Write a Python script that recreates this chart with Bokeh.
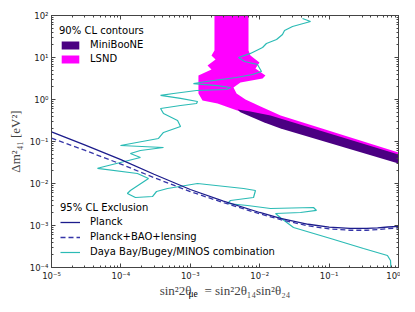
from bokeh.plotting import figure
from bokeh.models import (LogAxis, FixedTicker, CustomJSTickFormatter, Legend,
                          LegendItem, Label, Range1d)
from bokeh.embed import file_html
from bokeh.resources import INLINE

# ---------------- data ----------------
x_ticks = [1e-5, 1e-4, 1e-3, 1e-2, 1e-1, 1.0]
y_ticks = [1e-4, 1e-3, 1e-2, 1e-1, 1.0, 1e1, 1e2]

# LSND 90% CL region (closed contour)
lsnd_x = [2.23e-3, 2.23e-3, 2.02e-3, 2.31e-3, 1.77e-3, 2.02e-3, 1.31e-3, 1.31e-3,
          1.50e-3, 2.47e-3, 4.74e-3, 2.0e-2, 1.0,
          1.0, 2.0e-2, 1.03e-2, 6.24e-3, 4.64e-3, 4.19e-3, 5.28e-3, 1.10e-2,
          1.21e-2, 8.69e-3, 9.93e-3, 7.36e-3, 6.9e-3, 6.9e-3]
lsnd_y = [100, 14.7, 11.2, 8.96, 6.45, 5.18, 3.73, 1.39,
          0.947, 0.803, 0.547, 0.24, 0.0353,
          0.0547, 0.416, 0.681, 1.0, 1.39, 1.93, 2.54, 3.16,
          3.73, 5.48, 7.6, 11.2, 14.7, 100]

# MiniBooNE 90% CL region
mb_x = [4.79e-3, 7.36e-3, 1.43e-2, 1.0, 1.0, 2.0e-2, 1.14e-2, 5.28e-3]
mb_y = [0.578, 0.518, 0.416, 0.049, 0.0299, 0.204, 0.288, 0.499]

# Planck exclusion curves
planck_x = [1e-5, 3e-5, 1e-4, 3e-4, 1e-3, 3e-3, 1e-2, 2e-2, 5e-2, 0.1, 0.2, 0.35, 0.5, 0.7, 1.0]
planck_y = [0.17, 0.083, 0.037, 0.0166, 0.0072, 0.0038, 0.00204, 0.00148, 0.00107,
            0.00091, 0.00085, 0.00085, 0.00088, 0.00092, 0.00095]
planck_bao_y = [0.12, 0.062, 0.029, 0.0138, 0.0064, 0.0035, 0.0019, 0.00138, 0.00098,
                0.00083, 0.00077, 0.00077, 0.00080, 0.00084, 0.00088]

# Daya Bay / Bugey / MINOS combination contour
dyb_x = [0.0414, 0.0540, 0.0297, 0.0228, 0.0213, 0.0175, 0.0125, 0.0110, 7.36e-3, 4.95e-3,
         6.04e-3, 9.29e-3, 0.0106, 7.87e-3, 4.64e-3, 2.16e-3, 1.11e-3, 2.47e-3, 3.79e-3, 3.33e-3,
         1.23e-3, 5.73e-4, 3.73e-4, 7.23e-4, 1.27e-3, 1.23e-3, 7.23e-4, 3.73e-4, 4.11e-4, 6.55e-4,
         7.23e-4, 4.11e-4, 3.48e-4, 9.86e-5, 4.11e-4, 1.91e-4, 1.37e-4, 1.91e-4, 5.08e-5, 4.60e-5,
         1.73e-4, 2.50e-4, 1.37e-4, 1.24e-4, 1.62e-4, 2.85e-4, 3.26e-4, 4.69e-4, 1.27e-3, 5.85e-3,
         8.69e-3, 8.15e-3, 3.79e-3, 3.44e-3, 6.67e-3, 1.43e-2, 0.0596, 0.0658, 0.0387, 0.0169,
         0.0206, 0.0307, 0.105, 0.313, 0.693, 0.767, 0.78]
dyb_y = [84.8, 71.9, 54.7, 44.0, 35.3, 26.8, 21.5, 17.3, 12.5, 10.0,
         8.03, 6.81, 4.64, 3.94, 3.34, 2.83, 2.40, 2.15, 1.93, 1.73,
         1.64, 1.39, 1.25, 1.06, 0.896, 0.803, 0.720, 0.611, 0.464, 0.316,
         0.228, 0.164, 0.118, 0.0804, 0.0720, 0.0610, 0.0518, 0.0416, 0.0240, 0.0228,
         0.0173, 0.0132, 6.82e-3, 5.78e-3, 4.64e-3, 4.90e-3, 6.45e-3, 7.60e-3, 0.01, 7.60e-3,
         6.82e-3, 4.64e-3, 3.94e-3, 3.34e-3, 2.99e-3, 2.54e-3, 2.68e-3, 2.28e-3, 2.04e-3, 1.93e-3,
         1.47e-3, 8.96e-4, 4.90e-4, 2.83e-4, 1.93e-4, 1.47e-4, 9e-5]

# ---------------- styles ----------------
C_MB = "#4b0082"
C_LSND = "#ff00ff"
C_PLANCK = "#1c1c8c"
C_BAO = "#3535a8"
C_DYB = "#2bbbb5"
AX = "#444444"
SANS = "DejaVu Sans"
SERIF = "Liberation Serif"

p = figure(width=400, height=300, x_axis_type="log", y_axis_type="log",
           x_range=Range1d(1e-5, 1.0), y_range=Range1d(1e-4, 1e2),
           output_backend="svg", toolbar_location=None,
           min_border_left=51, min_border_right=2, min_border_top=15, min_border_bottom=33)
p.xgrid.visible = False
p.ygrid.visible = False
p.outline_line_color = AX
p.background_fill_color = "white"

x_minor = [m * 10.0 ** e for e in range(-5, 0) for m in range(2, 10)]
y_minor = [m * 10.0 ** e for e in range(-4, 2) for m in range(2, 10)]

sup_fmt = CustomJSTickFormatter(code="""
const sup = {'-':'\u207b','0':'\u2070','1':'\u00b9','2':'\u00b2','3':'\u00b3','4':'\u2074',
             '5':'\u2075','6':'\u2076','7':'\u2077','8':'\u2078','9':'\u2079'};
const e = Math.round(Math.log10(tick));
return '10' + String(e).split('').map(c => sup[c]).join('');
""")

def style_axis(ax):
    ax.major_tick_in = 4
    ax.major_tick_out = 0
    ax.minor_tick_in = 2
    ax.minor_tick_out = 0
    ax.axis_line_color = AX
    ax.major_tick_line_color = AX
    ax.minor_tick_line_color = AX

for ax, ticks, minor in ((p.xaxis[0], x_ticks, x_minor), (p.yaxis[0], y_ticks, y_minor)):
    ax.ticker = FixedTicker(ticks=ticks, minor_ticks=minor)
    ax.formatter = sup_fmt
    style_axis(ax)
    ax.major_label_text_font = SANS
    ax.major_label_text_font_size = "8.5px"
    ax.major_label_text_color = "#222222"
    ax.major_label_standoff = 3

p.yaxis.axis_label = "Δm²₄₁ [eV²]"
p.yaxis.axis_label_text_font = SERIF
p.yaxis.axis_label_text_font_size = "13px"
p.yaxis.axis_label_text_font_style = "normal"
p.yaxis.axis_label_standoff = 4

# x axis label; the subscript "μe" of the first theta is added as a separate label
# (non-breaking spaces keep room for it, SVG would collapse ordinary spaces)
p.xaxis.axis_label = "sin²2θ\u00a0\u00a0\u00a0\u00a0= sin²2θ₁₄sin²θ₂₄"
p.xaxis.axis_label_text_font = SERIF
p.xaxis.axis_label_text_font_size = "13px"
p.xaxis.axis_label_text_font_style = "normal"
p.xaxis.axis_label_standoff = -1

blank = CustomJSTickFormatter(code="return '';")
top = LogAxis(ticker=FixedTicker(ticks=x_ticks, minor_ticks=x_minor), formatter=blank,
              major_label_text_font_size="0px", major_label_standoff=0)
right = LogAxis(ticker=FixedTicker(ticks=y_ticks, minor_ticks=y_minor), formatter=blank,
                major_label_text_font_size="0px", major_label_standoff=0)
style_axis(top)
style_axis(right)
p.add_layout(top, "above")
p.add_layout(right, "right")

# subscript, placed in a side panel so that it is not clipped to the frame
p.add_layout(Label(x=188, y=293, x_units="canvas", y_units="canvas", text="μe",
                   text_font=SERIF, text_font_size="9.5px", text_color="black",
                   text_baseline="alphabetic", text_align="left"), "above")

# ---------------- glyphs ----------------
r_lsnd = p.patch(lsnd_x, lsnd_y, fill_color=C_LSND, line_color=None)
r_mb = p.patch(mb_x, mb_y, fill_color=C_MB, line_color=None)
r_dyb = p.line(dyb_x, dyb_y, line_color=C_DYB, line_width=1.2)
r_planck = p.line(planck_x, planck_y, line_color=C_PLANCK, line_width=1.3)
r_bao = p.line(planck_x, planck_bao_y, line_color=C_BAO, line_width=1.3, line_dash="5 3")

def make_legend(items, title, loc, gw, standoff, spacing):
    return Legend(items=items, title=title, location=loc, orientation="vertical",
                  border_line_color=None, background_fill_alpha=0, padding=0, margin=0,
                  spacing=spacing, glyph_width=gw, glyph_height=10, label_height=11,
                  label_standoff=standoff, label_text_font=SANS, label_text_font_size="10px",
                  label_text_color="black", title_text_font=SANS, title_text_font_size="10px",
                  title_text_font_style="normal", title_text_color="black", title_standoff=3)

leg1 = make_legend([LegendItem(label="MiniBooNE", renderers=[r_mb]),
                    LegendItem(label="LSND", renderers=[r_lsnd])],
                   "90% CL contours", (8, 203), 22, 9, 3)
leg2 = make_legend([LegendItem(label="Planck", renderers=[r_planck]),
                    LegendItem(label="Planck+BAO+lensing", renderers=[r_bao]),
                    LegendItem(label="Daya Bay/Bugey/MINOS combination", renderers=[r_dyb])],
                   "95% CL Exclusion", (9, 10), 20, 10, 4)
p.add_layout(leg1, "center")
p.add_layout(leg2, "center")

open("out.html", "w").write(file_html(p, INLINE))
